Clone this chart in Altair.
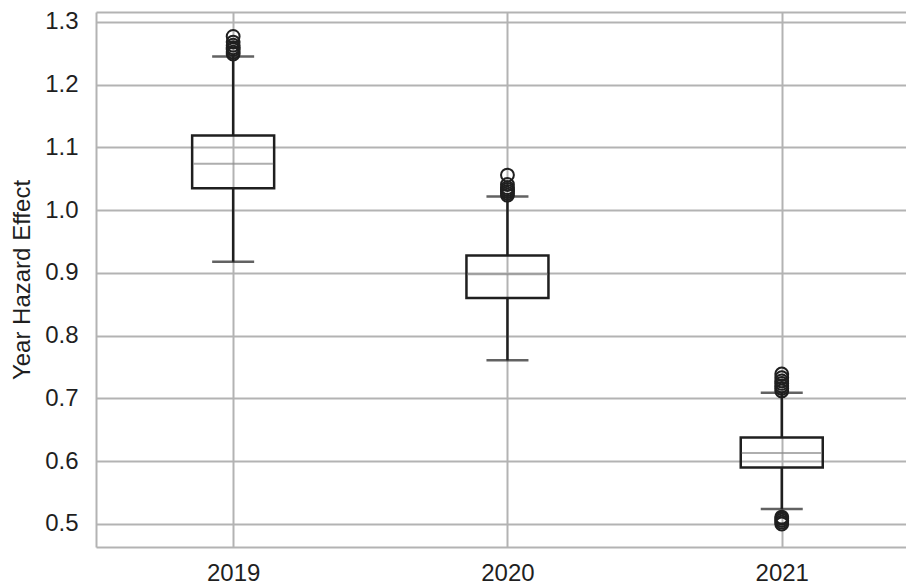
import altair as alt
import pandas as pd

# Box-plot summary per year
years = ["2019", "2020", "2021"]
q1 = [1.035, 0.860, 0.590]
median = [1.074, 0.898, 0.613]
q3 = [1.119, 0.928, 0.638]
whisker_lo = [0.918, 0.761, 0.524]
whisker_hi = [1.245, 1.022, 0.709]

# Points beyond the whiskers
outliers_2019 = [1.249, 1.252, 1.256, 1.259, 1.263, 1.268, 1.277]
outliers_2020 = [1.024, 1.027, 1.030, 1.033, 1.036, 1.041, 1.056]
outliers_2021 = [0.500, 0.503, 0.506, 0.509, 0.511,
                 0.712, 0.716, 0.720, 0.724, 0.728, 0.733, 0.739]

# Boxes sit at positions 1, 2, 3 on a numeric axis labelled with the years
positions = list(range(1, len(years) + 1))
stats = pd.DataFrame({
    "pos": positions, "year": years, "q1": q1, "median": median, "q3": q3,
    "lo": whisker_lo, "hi": whisker_hi,
})
flier_groups = [outliers_2019, outliers_2020, outliers_2021]
out = pd.DataFrame({
    "pos": [p for p, grp in zip(positions, flier_groups) for _ in grp],
    "value": [v for grp in flier_groups for v in grp],
})

FONT = "Liberation Sans"
GRID = "#b3b3b3"
INK = "#1f1f1f"
TITLE = "Year Hazard Effect"

W, H = 810, 535
STEP = 274.3  # pixels between neighbouring boxes
xscale = alt.Scale(domain=[0.5, 0.5 + W / STEP], nice=False, zero=False, padding=0)
yscale = alt.Scale(domain=[0.4633, 1.3159], nice=False, zero=False, padding=0)

year_label = "[" + ",".join(f"'{y}'" for y in years) + "][datum.value - 1]"

bottom_axis = alt.Axis(
    title=None, values=positions, labelExpr=year_label, labelAngle=0,
    ticks=False, tickSize=0, labelPadding=14,
    labelFontSize=24, labelFont=FONT, labelColor=INK,
    domain=True, domainColor=GRID, domainWidth=2,
    grid=True, gridColor=GRID, gridWidth=2,
)
top_axis = alt.Axis(
    orient="top", title=None, labels=False, ticks=False, grid=False,
    domain=True, domainColor=GRID, domainWidth=2,
)
left_axis = alt.Axis(
    title=TITLE, values=[0.5, 0.6, 0.7, 0.8, 0.9, 1.0, 1.1, 1.2, 1.3],
    format=".1f", ticks=False, tickSize=0, labelPadding=18,
    labelFontSize=24, labelFont=FONT, labelColor=INK,
    titleFontSize=24, titleFont=FONT, titleColor=INK,
    titleFontWeight="normal", titlePadding=10,
    domain=True, domainColor=GRID, domainWidth=2,
    grid=True, gridColor=GRID, gridWidth=2,
)

base = alt.Chart(stats)

box = base.mark_bar(filled=False, color=INK, strokeWidth=2.5, size=82).encode(
    x=alt.X("pos:Q", scale=xscale, axis=bottom_axis),
    y=alt.Y("q1:Q", scale=yscale, axis=left_axis),
    y2="q3:Q",
)

whisker_up = base.mark_rule(color=INK, strokeWidth=2.5).encode(
    x=alt.X("pos:Q", scale=xscale, axis=None),
    y=alt.Y("q3:Q", scale=yscale, axis=None),
    y2="hi:Q",
)
whisker_down = base.mark_rule(color=INK, strokeWidth=2.5).encode(
    x=alt.X("pos:Q", scale=xscale, axis=None),
    y=alt.Y("lo:Q", scale=yscale, axis=None),
    y2="q1:Q",
)

cap_hi = base.mark_tick(color=INK, size=42, thickness=2.5, orient="horizontal").encode(
    x=alt.X("pos:Q", scale=xscale, axis=None),
    y=alt.Y("hi:Q", scale=yscale, axis=None),
)
cap_lo = base.mark_tick(color=INK, size=42, thickness=2.5, orient="horizontal").encode(
    x=alt.X("pos:Q", scale=xscale, axis=None),
    y=alt.Y("lo:Q", scale=yscale, axis=None),
)

med = base.mark_tick(color="#8c8c8c", size=80, thickness=2, orient="horizontal").encode(
    x=alt.X("pos:Q", scale=xscale, axis=top_axis),
    y=alt.Y("median:Q", scale=yscale, axis=None),
)

fliers = alt.Chart(out).mark_point(
    shape="circle", filled=False, color=INK, size=165, strokeWidth=2, opacity=1
).encode(
    x=alt.X("pos:Q", scale=xscale, axis=None),
    y=alt.Y("value:Q", scale=yscale, axis=None),
)

chart = (
    alt.layer(box, whisker_up, whisker_down, cap_hi, cap_lo, med, fliers)
    .resolve_axis(x="independent", y="independent")
    .properties(
        width=W, height=H,
        autosize=alt.AutoSizeParams(type="none"),
        padding={"left": 96, "top": 12, "right": 0, "bottom": 39},
        background="white",
    )
    .configure_view(stroke=None)
)

chart.save("out.html", embed_options={"renderer": "svg", "actions": False})
